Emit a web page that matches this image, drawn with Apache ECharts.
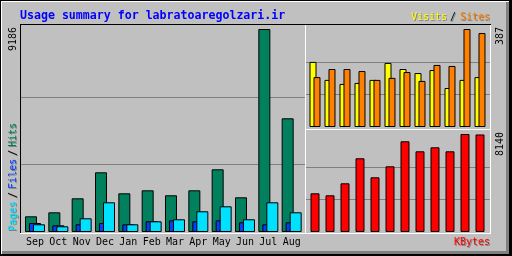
<!DOCTYPE html>
<html><head><meta charset="utf-8">
<script src="https://cdn.jsdelivr.net/npm/echarts@6/dist/echarts.min.js"></script>
<style>html,body{margin:0;padding:0;background:#c0c0c0}#c{width:512px;height:256px}</style>
</head><body><div id="c"></div>
<script>
// ---- data ----
const months = ['Sep','Oct','Nov','Dec','Jan','Feb','Mar','Apr','May','Jun','Jul','Aug'];
const hits   = [710, 891, 1525, 2701, 1751, 1887, 1661, 1887, 2837, 1570, 9186, 5145];
const files  = [407, 303, 348, 407, 348, 484, 529, 484, 529, 439, 348, 439];
const pages  = [348, 258, 620, 1344, 348, 484, 575, 937, 1163, 575, 1344, 891];
const visits = [257, 186, 170, 174, 186, 253, 229, 213, 225, 154, 186, 197];
const sites  = [197, 229, 229, 221, 186, 194, 217, 182, 245, 241, 387, 371];
const kbytes = [3214, 3048, 4045, 6122, 4543, 5457, 7534, 6703, 7035, 6703, 8140, 8100];
const title = 'Usage summary for labratoaregolzari.ir';

const maxHits = Math.max(...hits, ...files, ...pages);
const maxSites = Math.max(...visits, ...sites);
const maxKB = Math.max(...kbytes);

const mono = '"DejaVu Sans Mono", monospace';
const chart = echarts.init(document.getElementById('c'), null, {renderer: 'canvas', width: 512, height: 256});
const bs = {borderColor: '#000', borderWidth: 1};

function hiddenX(i) { return {gridIndex: i, type: 'category', data: months, show: false}; }

chart.setOption({
  animation: false,
  backgroundColor: '#c0c0c0',
  grid: [
    {left: 23.33, width: 280, top: 29, height: 203},
    {left: 307.5, width: 180, top: 29, height: 98},
    {left: 307.5, width: 180, top: 134, height: 98}
  ],
  xAxis: [
    {gridIndex: 0, type: 'category', data: months,
     axisLine: {show: false}, axisTick: {show: false}, splitLine: {show: false},
     axisLabel: {margin: 5, fontFamily: mono, fontSize: 10, color: '#000', interval: 0}},
    hiddenX(1), hiddenX(2)
  ],
  yAxis: [
    {gridIndex: 0, type: 'value', min: 0, max: maxHits, show: false},
    {gridIndex: 1, type: 'value', min: 0, max: maxSites, show: false},
    {gridIndex: 2, type: 'value', min: 0, max: maxKB, show: false}
  ],
  series: [
    {name: 'Hits', type: 'bar', xAxisIndex: 0, yAxisIndex: 0, data: hits, barWidth: 12, barGap: '-66.67%', itemStyle: Object.assign({color: '#00805c'}, bs)},
    {name: 'Files', type: 'bar', xAxisIndex: 0, yAxisIndex: 0, data: files, barWidth: 12, barGap: '-66.67%', itemStyle: Object.assign({color: '#0040ff'}, bs)},
    {name: 'Pages', type: 'bar', xAxisIndex: 0, yAxisIndex: 0, data: pages, barWidth: 12, barGap: '-66.67%', itemStyle: Object.assign({color: '#00e0ff'}, bs)},
    {name: 'Visits', type: 'bar', xAxisIndex: 1, yAxisIndex: 1, data: visits, barWidth: 7, barGap: '-42.86%', itemStyle: Object.assign({color: '#ffff00'}, bs)},
    {name: 'Sites', type: 'bar', xAxisIndex: 1, yAxisIndex: 1, data: sites, barWidth: 7, barGap: '-42.86%', itemStyle: Object.assign({color: '#ff8000'}, bs)},
    {name: 'KBytes', type: 'bar', xAxisIndex: 2, yAxisIndex: 2, data: kbytes, barWidth: 9, itemStyle: Object.assign({color: '#ff0000'}, bs)}
  ]
});

// ---- decorations: frame, panel borders, grid lines, texts ----
const els = [];
function line(x1, y1, x2, y2, c, z) {
  els.push({type: 'line', silent: true, z: z || 0, shape: {x1, y1, x2, y2}, style: {stroke: c, lineWidth: 1}});
}
function text(t, x, y, color, opt) {
  opt = opt || {};
  const font = opt.font || ('10px ' + mono);
  const base = {type: 'text', silent: true, z: 50, rotation: opt.rot || 0};
  const al = opt.align || 'left';
  if (opt.shadow) {
    els.push(Object.assign({}, base, {x: x + 1, y: y + 1, style: {text: t, fill: '#808080', font, textAlign: al, textVerticalAlign: 'middle', align: al, verticalAlign: 'middle'}}));
  }
  els.push(Object.assign({}, base, {z: 51, x, y, style: {text: t, fill: color, font, textAlign: al, textVerticalAlign: 'middle', align: al, verticalAlign: 'middle'}}));
}

// outer frame
line(0, 0.5, 512, 0.5, '#000');
line(0.5, 0, 0.5, 256, '#000');
line(1, 1.5, 510, 1.5, '#fff');
line(1.5, 1, 1.5, 254, '#fff');
line(2, 251.5, 508, 251.5, '#808080');
line(2, 252.5, 508, 252.5, '#808080');
line(2, 253.5, 508, 253.5, '#808080');
line(506.5, 2, 506.5, 254, '#808080');
line(507.5, 2, 507.5, 254, '#808080');
line(508.5, 2, 508.5, 254, '#808080');
line(0, 254.5, 512, 254.5, '#000');
line(0, 255.5, 512, 255.5, '#000');
line(509.5, 0, 509.5, 256, '#000');
line(510.5, 0, 510.5, 256, '#000');
line(511.5, 0, 511.5, 256, '#000');

// grid lines at thirds of each panel's scale
function hgrid(yAxisIndex, v, x1, x2) {
  const y = Math.round(chart.convertToPixel({yAxisIndex}, v)) + 0.5;
  line(x1, y, x2, y, '#808080', 1);
}
hgrid(0, maxHits / 3, 21, 305); hgrid(0, maxHits * 2 / 3, 21, 305);
hgrid(1, maxSites / 3, 306, 490); hgrid(1, maxSites * 2 / 3, 306, 490);
hgrid(2, maxKB / 3, 306, 490); hgrid(2, maxKB * 2 / 3, 306, 490);

// panel borders
line(20, 24.5, 491, 24.5, '#000', 3);
line(20.5, 24, 20.5, 234, '#000', 3);
line(20, 233.5, 491, 233.5, '#fff', 3);
line(305.5, 25, 305.5, 234, '#fff', 3);
line(490.5, 25, 490.5, 234, '#fff', 3);
line(306, 129.5, 491, 129.5, '#fff', 3);

// texts
text(title, 20, 15.7, '#0000ff', {font: 'bold 11.6px ' + mono});
text('Sites', 490, 17.6, '#ff8000', {align: 'right', shadow: true});
text('/', 453, 17.6, '#000', {align: 'center', shadow: true});
text('Visits', 447, 17.6, '#ffff00', {align: 'right', shadow: true});
text('KBytes', 490, 242.6, '#ff0000', {align: 'right', shadow: true});
const up = Math.PI / 2;
text(String(maxHits), 13.6, 51, '#000', {rot: up});
text(String(maxSites), 500.6, 45, '#000', {rot: up});
text(String(maxKB), 500.6, 156, '#000', {rot: up});
// vertical legend "Pages / Files / Hits" (reads bottom to top)
const legParts = [['Pages', '#00e0ff'], ['/', '#000'], ['Files', '#0040ff'], ['/', '#000'], ['Hits', '#00805c']];
let yy = 231;
legParts.forEach(([t, c]) => {
  if (t === '/') {
    text(t, 13.6, yy - 6, c, {rot: up, align: 'center', shadow: true});
    yy -= 12;
  } else {
    text(t, 13.6, yy, c, {rot: up, shadow: true});
    yy -= t.length * 6.02;
  }
});

chart.setOption({graphic: {elements: els}});
</script>
</body></html>
